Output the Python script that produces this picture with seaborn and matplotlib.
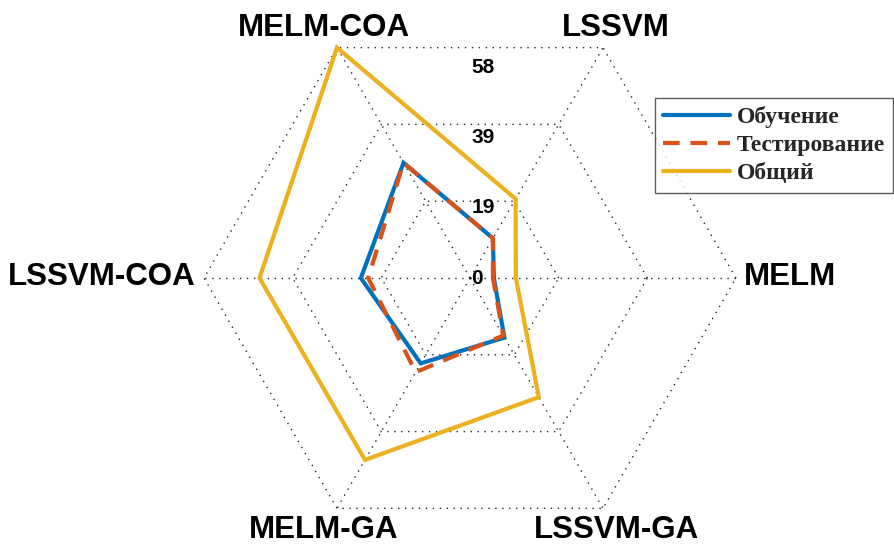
import numpy as np
import pandas as pd
import matplotlib
matplotlib.use("Agg")
import matplotlib.pyplot as plt
import seaborn as sns

# Categories (counter-clockwise, starting at the right)
categories = ["MELM", "LSSVM", "MELM-COA", "LSSVM-COA", "MELM-GA", "LSSVM-GA"]

train = [5.2, 10.0, 29.0, 23.8, 21.5, 15.0]
test = [5.0, 10.0, 29.0, 22.2, 23.7, 14.5]
total = [10.0, 19.9, 58.0, 45.9, 45.8, 30.0]

series_names = ["Обучение", "Тестирование", "Общий"]
series_colors = ["#0072BD", "#D95319", "#EDB120"]

ring_levels = [0, 19.33, 38.67, 58]
ring_labels = ["0", "19", "39", "58"]
r_max = 58

sns.set_theme(style="white")
plt.rcParams["font.family"] = ["Liberation Sans", "DejaVu Sans"]

angles = np.deg2rad(np.arange(len(categories)) * 360 / len(categories))

fig = plt.figure(figsize=(8.94, 5.44), dpi=100)
ax = fig.add_axes([0, 0, 1, 1])

# hexagon web + spokes
dotted = dict(color="#222222", lw=1.0, dashes=(1, 4), zorder=1)
for lv in ring_levels[1:]:
    hx = np.append(lv * np.cos(angles), lv * np.cos(angles[0]))
    hy = np.append(lv * np.sin(angles), lv * np.sin(angles[0]))
    ax.plot(hx, hy, **dotted)
for a in angles:
    ax.plot([0, r_max * np.cos(a)], [0, r_max * np.sin(a)], **dotted)

# data polygons
rows = []
for name, vals in zip(series_names, [train, test, total]):
    v = list(vals) + [vals[0]]
    a = list(angles) + [angles[0]]
    for i, (val, th) in enumerate(zip(v, a)):
        rows.append({"series": name, "order": i,
                     "x": val * np.cos(th), "y": val * np.sin(th)})
df = pd.DataFrame(rows)

handles = []
for name, color in zip(series_names, series_colors):
    sub = df[df["series"] == name]
    sns.lineplot(data=sub, x="x", y="y", sort=False, color=color, lw=3,
                 ax=ax, zorder=3, estimator=None)
    ln = ax.lines[-1]
    ln.set_solid_joinstyle("miter")
    if name == "Тестирование":
        ln.set_dashes((4, 2.6))
    handles.append(ln)

# category labels
for name, th in zip(categories, angles):
    c, s = np.cos(th), np.sin(th)
    if abs(s) < 0.1:
        x = r_max * c * 1.03
        ax.text(x, -1.5, name, ha="left" if c > 0 else "right", va="baseline",
                fontsize=22.5, fontweight="bold", color="black")
    else:
        x = r_max * c * 1.1
        y = r_max * s + (2.6 if s > 0 else -6.5)
        ax.text(x, y, name, ha="center", va="baseline",
                fontsize=22.5, fontweight="bold", color="black")

# ring value labels
for lv, lab in zip(ring_levels, ring_labels):
    ax.text(0.3, lv * 0.793, lab, ha="left", va="center",
            fontsize=15, fontweight="bold", color="black", zorder=2)

leg = ax.legend(handles, series_names, loc="upper right",
                bbox_to_anchor=(0.999, 0.82), bbox_transform=fig.transFigure,
                borderaxespad=0, frameon=True, fancybox=False,
                handlelength=2.8, handletextpad=0.3, labelspacing=0.28,
                borderpad=0.35,
                prop={"family": "Liberation Serif", "weight": "bold", "size": 17})
leg.get_frame().set_edgecolor("#333333")
leg.get_frame().set_linewidth(1.0)

scale = 266 / 58
ax.set_xlim(-470 / scale, (894 - 470) / scale)
ax.set_ylim(-(544 - 278) / scale, 278 / scale)
ax.set_axis_off()

fig.savefig("out.png", dpi=100)
